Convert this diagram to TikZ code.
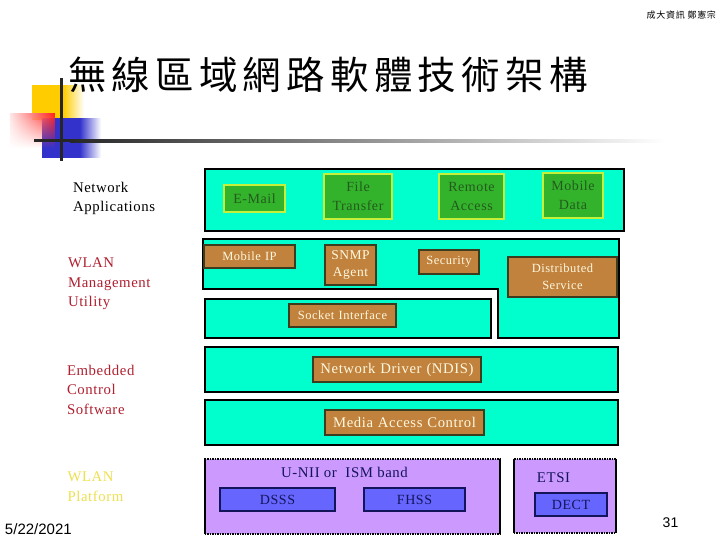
\documentclass[tikz,border=0pt]{standalone}
\usepackage{fontspec}
\usetikzlibrary{fadings}
\setmainfont{Liberation Serif}
\newfontfamily\cjk[LetterSpace=13.6]{Noto Sans CJK TC}
\newfontfamily\cjksmall[LetterSpace=8]{Noto Sans CJK TC}
\newfontfamily\lab[LetterSpace=4]{Liberation Serif}
\newfontfamily\plainsans{Liberation Sans}
\definecolor{teal}{HTML}{00FFCC}
\definecolor{grn}{HTML}{33B32B}
\definecolor{grnline}{HTML}{C4F03C}
\definecolor{grntext}{HTML}{245A1E}
\definecolor{brn}{HTML}{C0823C}
\definecolor{brnline}{HTML}{3C3C1E}
\definecolor{cream}{HTML}{FFF8E0}
\definecolor{purp}{HTML}{CC99FF}
\definecolor{blu}{HTML}{6666FF}
\definecolor{navy}{HTML}{14145A}
\definecolor{redlab}{HTML}{B02030}
\definecolor{yellab}{HTML}{EEE050}
\definecolor{sqyellow}{HTML}{FFCC00}
\definecolor{sqblue}{HTML}{3333CC}
\definecolor{sqred}{HTML}{FF2020}
\pgfdeclarehorizontalshading{yellowfade}{100bp}{color(0bp)=(sqyellow); color(55bp)=(sqyellow); color(75bp)=(white); color(100bp)=(white)}
\pgfdeclarehorizontalshading{bluefade}{100bp}{color(0bp)=(sqblue); color(57bp)=(sqblue); color(75bp)=(white); color(100bp)=(white)}
\tikzset{
  x=1pt,y=-1pt,
  base/.style={inner sep=0pt,outer sep=0pt,align=center,font=\lab\fontsize{14}{19}\selectfont},
  layer/.style={base,fill=teal,draw=black,line width=1.6pt},
  appbox/.style={base,fill=grn,draw=grnline,line width=1.6pt,text=grntext},
  svcbox/.style={base,fill=brn,draw=brnline,line width=1.6pt,text=cream,font=\lab\fontsize{13.5}{17}\selectfont},
  svcsmall/.style={svcbox,font=\lab\fontsize{12.5}{17}\selectfont},
  svclarge/.style={svcbox,font=\lab\fontsize{14.7}{17}\selectfont},
  band/.style={base,fill=purp,draw=black,line width=1.5pt,densely dotted},
  phy/.style={base,fill=blu,draw=navy,line width=1.6pt,text=navy},
  sidelab/.style={base,align=left,anchor=north west,font=\lab\fontsize{14.8}{19.5}\selectfont},
  bandlab/.style={base,text=navy,font=\lab\fontsize{14.8}{19}\selectfont},
}
\newcommand{\bx}[7]{%
  \pgfmathsetmacro{\cxx}{(#3+#5)/2}\pgfmathsetmacro{\cyy}{(#4+#6)/2}%
  \pgfmathsetmacro{\www}{#5-#3-1.6}\pgfmathsetmacro{\hhh}{#6-#4-1.6}%
  \node[#1,minimum width=\www pt,minimum height=\hhh pt,text width=\www pt] (#2) at (\cxx,\cyy) {#7};}
\begin{document}
\begin{tikzpicture}
\useasboundingbox (0,0) rectangle (720,540);
\fill[white] (0,0) rectangle (720,540);
% decoration
\shade[shading=yellowfade] (32,86) rectangle (84,120);
\shade[shading=bluefade] (42,119) rectangle (101,158);
\shade[left color=red!10,right color=sqred,path fading=south] (10,114) rectangle (55,148);
\fill[black!85] (34,139.5) rectangle (70,142.5);
\shade[left color=black!85,right color=white] (70,139.5) rectangle (665,142.5);
\fill[black!85] (60,78) rectangle (63,161);
% text
\node[base,anchor=west,font=\cjk\fontsize{38.5}{40}\selectfont] (title) at (68,75) {無線區域網路軟體技術架構};
\node[base,anchor=east,font=\cjksmall\fontsize{9}{10}\selectfont] (auth) at (716,15) {成大資訊\ 鄭憲宗};
\node[sidelab] (l1) at (73,182) {Network\\Applications};
\node[sidelab,text=redlab] (l2) at (68,258) {WLAN\\Management\\Utility};
\node[sidelab,text=redlab] (l3) at (67,365) {Embedded\\Control\\Software};
\node[sidelab,text=yellab] (l4) at (67.5,472) {WLAN\\Platform};
\node[base,anchor=west,font=\plainsans\fontsize{15}{16}\selectfont] (date) at (5,529) {5/22/2021};
\node[base,font=\plainsans\fontsize{14}{16}\selectfont] (page) at (670.5,523) {31};
% layers
\bx{layer}{app}{204}{168}{625}{232}{}
\draw[layer] (203,239) -- (619,239) -- (619,338) -- (498,338) -- (498,289) -- (203,289) -- cycle;
\bx{layer}{sock}{204}{298}{492}{339}{}
\bx{layer}{net}{204}{346}{619}{393}{}
\bx{layer}{mac}{204}{399}{619}{446}{}
\bx{appbox}{email}{223}{184}{286}{213}{E-Mail}
\bx{appbox}{file}{323}{173}{393}{220}{File\\Transfer}
\bx{appbox}{remote}{438}{173}{505}{220}{Remote\\Access}
\bx{appbox}{mdata}{542}{172}{604}{219}{Mobile\\Data}
\bx{svcsmall}{mip}{203}{244}{296}{269}{Mobile IP}
\bx{svcbox}{snmp}{324}{244}{377}{286}{SNMP\\Agent}
\bx{svcsmall}{sec}{418}{249}{480}{275}{Security}
\bx{svcsmall}{dist}{507}{256}{618}{298}{Distributed\\Service}
\bx{svcsmall}{sockif}{288}{303}{397}{328}{Socket Interface}
\bx{svclarge}{ndis}{312}{356}{482}{383}{Network Driver (NDIS)}
\bx{svclarge}{macbox}{324}{409}{485}{436}{Media Access Control}
% bands
\bx{band}{b1}{204}{458}{501}{535}{}
\bx{band}{b2}{513}{458}{617}{534}{}
\draw[black,line width=1.5pt] (b1.north east) -- (b1.south east);
\draw[black,line width=1.5pt] (b1.north west) -- (b1.south west);
\draw[black,line width=1.5pt] (b2.north east) -- (b2.south east);
\draw[black,line width=1.5pt] (b2.north west) -- (b2.south west);
\node[bandlab] (unii) at (344.5,472) {U-NII or\ \ ISM band};
\node[bandlab] (etsi) at (553.5,478) {ETSI};
\bx{phy}{dsss}{219}{487}{336}{512}{DSSS}
\bx{phy}{fhss}{363}{487}{466}{512}{FHSS}
\bx{phy}{dect}{534}{492}{608}{517}{DECT}
\end{tikzpicture}
\end{document}
